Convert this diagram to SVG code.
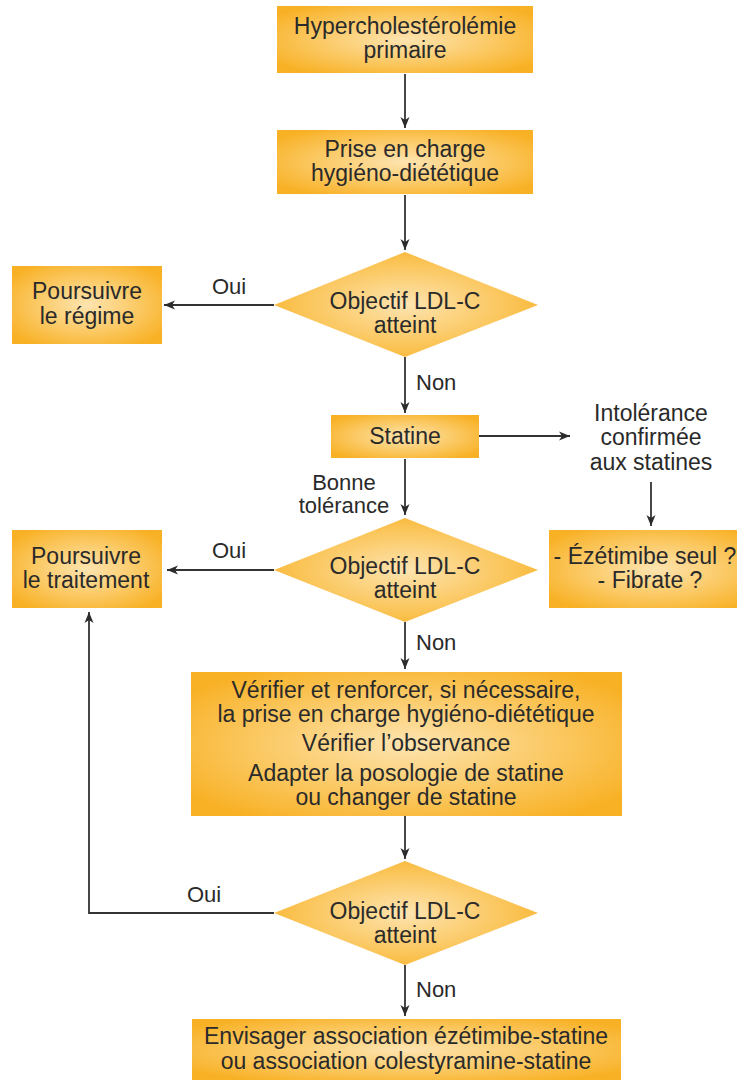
<svg xmlns="http://www.w3.org/2000/svg" width="737" height="1080" viewBox="0 0 737 1080">
<defs>
<radialGradient id="g" cx="0.5" cy="0.5" r="0.62">
<stop offset="0" stop-color="#fde4b0"/>
<stop offset="0.55" stop-color="#fbc964"/>
<stop offset="1" stop-color="#f8b125"/>
</radialGradient>
<marker id="a" markerUnits="userSpaceOnUse" markerWidth="12" markerHeight="10" refX="11" refY="5" orient="auto">
<path d="M0,0.5 L11,5 L0,9.5 L3,5 Z" fill="#2b2b2b"/>
</marker>
<style>
.n{fill:url(#g);stroke:none}
.t{font-family:"Liberation Sans",Arial,sans-serif;font-size:23px;fill:#2a2a2a;text-anchor:middle}
.l{font-family:"Liberation Sans",Arial,sans-serif;font-size:22px;fill:#2a2a2a}
.c{stroke:#333;stroke-width:1.8;fill:none}
.c path{marker-end:url(#a)}
</style>
</defs>
<rect width="737" height="1080" fill="#fff"/>
<g id="connectors" class="c">
<path d="M405,74 V128"/>
<path d="M405,195 V250"/>
<path d="M274,305 H164"/>
<path d="M405,357 V413"/>
<path d="M479,436 H570"/>
<path d="M651,482 V526"/>
<path d="M405,459 V515"/>
<path d="M274,570 H167"/>
<path d="M405,622 V669"/>
<path d="M405,816 V859"/>
<path d="M274,913 H89 V612"/>
<path d="M405,965 V1016"/>
</g>
<g id="labels">
<text class="l" x="229" y="294" text-anchor="middle">Oui</text>
<text class="l" x="416" y="390">Non</text>
<text class="l" x="344" y="490" text-anchor="middle">Bonne</text>
<text class="l" x="344" y="513" text-anchor="middle">tolérance</text>
<text class="l" x="229" y="558" text-anchor="middle">Oui</text>
<text class="l" x="416" y="650">Non</text>
<text class="l" x="204" y="902" text-anchor="middle">Oui</text>
<text class="l" x="416" y="997">Non</text>
</g>
<g id="n1"><rect class="n" x="277" y="6" width="256" height="67"/>
<text class="t" x="405" y="34">Hypercholestérolémie</text><text class="t" x="405" y="58">primaire</text></g>
<g id="n2"><rect class="n" x="277" y="130" width="256" height="64"/>
<text class="t" x="405" y="157">Prise en charge</text><text class="t" x="405" y="181">hygiéno-diététique</text></g>
<g id="d1"><polygon class="n" points="405,252 538,305 405,357 274,305"/>
<text class="t" x="405" y="309">Objectif LDL-C</text><text class="t" x="405" y="333">atteint</text></g>
<g id="n3"><rect class="n" x="12" y="266" width="150" height="78"/>
<text class="t" x="87" y="299">Poursuivre</text><text class="t" x="87" y="324">le régime</text></g>
<g id="n4"><rect class="n" x="331" y="415" width="148" height="43"/>
<text class="t" x="405" y="444">Statine</text></g>
<g id="n5">
<text class="t" x="651" y="421">Intolérance</text><text class="t" x="651" y="445">confirmée</text><text class="t" x="651" y="470">aux statines</text></g>
<g id="n6"><rect class="n" x="549" y="530" width="212" height="78"/>
<text class="t" x="645" y="564">- Ézétimibe seul ?</text><text class="t" x="650" y="588">- Fibrate ?</text></g>
<g id="d2"><polygon class="n" points="405,518 538,570 405,622 274,570"/>
<text class="t" x="405" y="574">Objectif LDL-C</text><text class="t" x="405" y="598">atteint</text></g>
<g id="n7"><rect class="n" x="12" y="530" width="150" height="78"/>
<text class="t" x="86" y="564">Poursuivre</text><text class="t" x="86" y="588">le traitement</text></g>
<g id="n8"><rect class="n" x="191" y="672" width="431" height="144"/>
<text class="t" x="406" y="698">Vérifier et renforcer, si nécessaire,</text>
<text class="t" x="406" y="722">la prise en charge hygiéno-diététique</text>
<text class="t" x="406" y="751">Vérifier l’observance</text>
<text class="t" x="406" y="781">Adapter la posologie de statine</text>
<text class="t" x="406" y="805">ou changer de statine</text></g>
<g id="d3"><polygon class="n" points="405,861 538,913 405,965 274,913"/>
<text class="t" x="405" y="919">Objectif LDL-C</text><text class="t" x="405" y="943">atteint</text></g>
<g id="n9"><rect class="n" x="192" y="1019" width="429" height="61"/>
<text class="t" x="406" y="1044">Envisager association ézétimibe-statine</text>
<text class="t" x="406" y="1069">ou association colestyramine-statine</text></g>
</svg>
